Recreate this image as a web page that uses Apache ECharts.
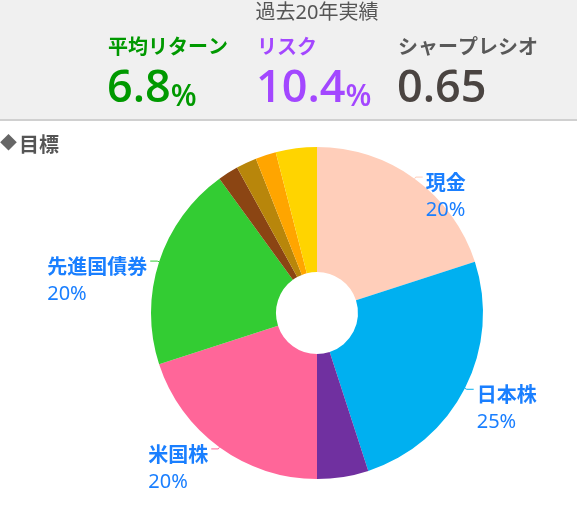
<!DOCTYPE html>
<html>
<head>
<meta charset="utf-8">
<script src="https://cdn.jsdelivr.net/npm/echarts@6/dist/echarts.min.js"></script>
<style>
html,body{margin:0;padding:0;background:#fff;}
#c{width:577px;height:515px;}
</style>
</head>
<body>
<div id="c"></div>
<script>
// ---- data ----
const headerTitle = '過去20年実績';
const statLabels = ['平均リターン', 'リスク', 'シャープレシオ'];
const statValues = ['6.8', '10.4', '0.65'];
const statUnits = ['%', '%', ''];
const sectionTitle = '目標';
const categories = ['現金', '日本株', '新興国株', '米国株', '先進国債券', '国内REIT', '海外REIT', 'ゴールド', '新興国債券'];
const values = [20, 25, 5, 20, 20, 2, 2, 2, 4];
const showLabel = [true, true, false, true, true, false, false, false, false];
const colors = ['#FFCEBA', '#00B0F0', '#7030A0', '#FF6699', '#33CC33', '#8B4513', '#B8860B', '#FFA500', '#FFD400'];

const FF = "'Noto Sans', 'Noto Sans CJK JP', sans-serif";
const NF = "'Open Sans', 'Noto Sans', sans-serif";
const statColors = ['#009900', '#A347FF', '#595959'];
const valueColors = ['#009900', '#A347FF', '#4A4441'];
const statX = [108, 257, 398];

const chart = echarts.init(document.getElementById('c'), null, {renderer: 'canvas'});

const graphics = [
  {type: 'rect', left: 0, top: 0, shape: {x: 0, y: 0, width: 577, height: 119}, style: {fill: '#F0F0F0'}, z: 0},
  {type: 'rect', left: 0, top: 119, shape: {x: 0, y: 0, width: 577, height: 2}, style: {fill: '#D0D0D0'}, z: 0},
  {type: 'text', x: 317, y: 3, style: {text: headerTitle, font: "normal 20px " + FF, fill: '#555555', align: 'center', verticalAlign: 'top'}, z: 2},
  {type: 'text', x: 0, y: 136, style: {text: '◆', font: "normal 17px " + FF, fill: '#666666', align: 'left', verticalAlign: 'top'}, z: 2},
  {type: 'text', x: 19, y: 136, style: {text: sectionTitle, font: "bold 20px " + FF, fill: '#555555', align: 'left', verticalAlign: 'top'}, z: 2}
];
statLabels.forEach((s, i) => {
  graphics.push({type: 'text', x: statX[i], y: 38, style: {text: s, font: "bold 20px " + FF, fill: statColors[i], align: 'left', verticalAlign: 'top'}, z: 2});
  graphics.push({type: 'text', x: statX[i] - 1, y: 112, style: {
    text: '{v|' + statValues[i] + '}' + (statUnits[i] ? '{u|' + statUnits[i] + '}' : ''),
    align: 'left', verticalAlign: 'bottom',
    rich: {
      v: {font: "600 45px " + NF, fill: valueColors[i], verticalAlign: 'bottom'},
      u: {font: "600 30px " + NF, fill: valueColors[i], verticalAlign: 'bottom'}
    }
  }, z: 2});
});

const data = categories.map((n, i) => ({
  name: n,
  value: values[i],
  itemStyle: {color: colors[i]},
  label: {show: showLabel[i]},
  labelLine: {show: showLabel[i], lineStyle: {color: colors[i], width: 1}}
}));

chart.setOption({
  animation: false,
  backgroundColor: '#ffffff',
  graphic: graphics,
  series: [{
    type: 'pie',
    center: [317, 313],
    radius: [41, 166],
    startAngle: 90,
    clockwise: true,
    data: data,
    label: {
      position: 'outside',
      formatter: p => '{n|' + p.name + '}\n{p|' + p.value + '%}',
      padding: [40, 0, 0, 0],
      distanceToLabelLine: 3,
      rich: {
        n: {fontFamily: FF, fontSize: 20, fontWeight: 'bold', color: '#1A7FFF', lineHeight: 26, align: 'left'},
        p: {fontFamily: FF, fontSize: 20, fontWeight: 'normal', color: '#1A7FFF', lineHeight: 26, align: 'left'}
      }
    },
    labelLine: {length: 2, length2: 7, smooth: false},
    emphasis: {disabled: true}
  }]
});
</script>
</body>
</html>
